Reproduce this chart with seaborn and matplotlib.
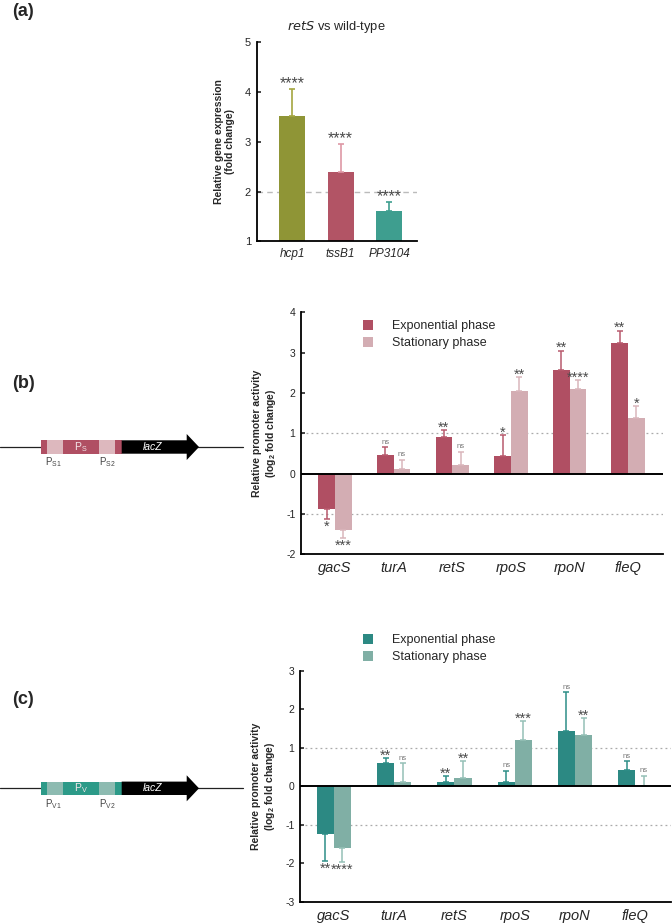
import numpy as np
import pandas as pd
import matplotlib
matplotlib.use("Agg")
import matplotlib.pyplot as plt
import matplotlib.patches as mpatches
import seaborn as sns

# ---------------- data ----------------
genes_a = ["hcp1", "tssB1", "PP3104"]
values_a = [3.52, 2.39, 1.61]
err_top_a = [4.07, 2.95, 1.80]
stars_a = ["****", "****", "****"]

genes_bc = ["gacS", "turA", "retS", "rpoS", "rpoN", "fleQ"]
phases = ["Exponential phase", "Stationary phase"]

b_exp = [-0.87, 0.47, 0.915, 0.45, 2.56, 3.24]
b_exp_err = [-1.12, 0.66, 1.08, 0.96, 3.05, 3.545]
b_exp_sig = ["*", "ns", "**", "*", "**", "**"]
b_stat = [-1.385, 0.115, 0.21, 2.06, 2.09, 1.38]
b_stat_err = [-1.59, 0.35, 0.54, 2.40, 2.32, 1.67]
b_stat_sig = ["***", "ns", "ns", "**", "****", "*"]

c_exp = [-1.245, 0.61, 0.12, 0.12, 1.44, 0.415]
c_exp_err = [-1.93, 0.735, 0.27, 0.41, 2.45, 0.65]
c_exp_sig = ["**", "**", "**", "ns", "ns", "ns"]
c_stat = [-1.60, 0.12, 0.23, 1.21, 1.34, 0.0]
c_stat_err = [-1.96, 0.60, 0.66, 1.70, 1.78, 0.28]
c_stat_sig = ["****", "ns", "**", "***", "**", "ns"]

# ---------------- style ----------------
sns.set_style("white")
plt.rcParams["font.family"] = ["Liberation Sans", "DejaVu Sans"]
plt.rcParams["mathtext.default"] = "regular"
plt.rcParams["axes.unicode_minus"] = False

W, H = 672, 923
fig = plt.figure(figsize=(W / 100, H / 100), dpi=100)


def add_ax(x0, y0, x1, y1):
    return fig.add_axes([x0 / W, 1 - y1 / H, (x1 - x0) / W, (y1 - y0) / H])


STAR_C = "#4A4A4A"
NS_C = "#777777"


def annotate(ax, x, y, s, neg):
    if s == "ns":
        fs, col = 5.5, NS_C
    else:
        fs, col = 10.5, STAR_C
    if neg:
        ax.annotate(s, (x, y), xytext=(0, -1.0), textcoords="offset points",
                    ha="center", va="top", fontsize=fs, color=col)
    else:
        off = 2.5 if s == "ns" else -1.0
        ax.annotate(s, (x, y), xytext=(0, off), textcoords="offset points",
                    ha="center", va="baseline", fontsize=fs, color=col)


def style_axes(ax):
    sns.despine(ax=ax)
    for sp in ["left", "bottom"]:
        ax.spines[sp].set_color("black")
        ax.spines[sp].set_linewidth(1.3)
    ax.tick_params(axis="y", direction="in", length=3, width=1.2,
                   labelsize=7.5, pad=4, left=True)
    ax.tick_params(axis="x", length=0, pad=5)
    ax.set_xlabel("")


# ---------------- panel (a) ----------------
ax_a = add_ax(256.7, 42.3, 416.7, 241.3)
colors_a = ["#8F9536", "#B25465", "#3E9E8F"]
err_col_a = ["#A4A640", "#DE98A5", "#3E9E8F"]
df_a = pd.DataFrame({"gene": genes_a, "value": values_a})
sns.barplot(data=df_a, x="gene", y="value", hue="gene", palette=colors_a,
            width=0.536, saturation=1, errorbar=None, legend=False,
            linewidth=0, ax=ax_a)
bars = [p for c in list(ax_a.containers) for p in c]
for i, p in enumerate(bars):
    xc = p.get_x() + p.get_width() / 2
    v = values_a[i]
    ax_a.errorbar([xc], [v], yerr=[[0], [err_top_a[i] - v]], fmt="none",
                  ecolor=err_col_a[i], elinewidth=1.2, capsize=2.5, capthick=1.2)
    ax_a.annotate(stars_a[i], (xc, err_top_a[i]), xytext=(0, 0.5),
                  textcoords="offset points", ha="center", va="baseline",
                  fontsize=11.5, color=STAR_C)
ax_a.axhline(2, color="#BBBBBB", lw=1.0, ls=(0, (4, 3)), zorder=0)
ax_a.set_ylim(1, 5)
ax_a.set_xlim(-0.73, 2.57)
ax_a.set_yticks([1, 2, 3, 4, 5])
style_axes(ax_a)
ax_a.tick_params(axis="y", labelsize=8)
for lab in ax_a.get_xticklabels():
    lab.set_fontstyle("italic")
    lab.set_fontsize(8.5)
ax_a.set_ylabel("Relative gene expression\n(fold change)", fontsize=7.5,
                fontweight="bold", labelpad=7)
ax_a.set_title("$\\it{retS}$ vs wild-type", fontsize=9.3, pad=9)


# ---------------- panels (b), (c) ----------------
def promoter_panel(box, ylim, xlim, exp, exp_err, exp_sig, stat, stat_err,
                   stat_sig, cols, ecols, leg_xy):
    ax = add_ax(*box)
    df = pd.DataFrame({
        "gene": genes_bc * 2,
        "phase": [phases[0]] * 6 + [phases[1]] * 6,
        "value": exp + stat,
    })
    sns.barplot(data=df, x="gene", y="value", hue="phase", palette=cols,
                width=0.57, saturation=1, errorbar=None, linewidth=0,
                ax=ax)
    vals = [exp, stat]
    errs = [exp_err, stat_err]
    sigs = [exp_sig, stat_sig]
    bar_conts = list(ax.containers)
    for h, cont in enumerate(bar_conts):
        for i, p in enumerate(list(cont)):
            xc = p.get_x() + p.get_width() / 2
            v = vals[h][i]
            e = errs[h][i]
            neg = e < v
            yerr = [[v - e], [0]] if neg else [[0], [e - v]]
            ax.errorbar([xc], [v], yerr=yerr, fmt="none", ecolor=ecols[h],
                        elinewidth=1.1, capsize=2.5, capthick=1.1)
            annotate(ax, xc, e, sigs[h][i], neg)
    ax.axhline(0, color="black", lw=1.4, zorder=3)
    for yy in (1, -1):
        ax.axhline(yy, color="#AAAAAA", lw=0.9, ls=(0, (1.5, 2.5)), zorder=0)
    ax.set_ylim(*ylim)
    ax.set_xlim(*xlim)
    ax.set_yticks(np.arange(ylim[0], ylim[1] + 1))
    style_axes(ax)
    for lab in ax.get_xticklabels():
        lab.set_fontstyle("italic")
        lab.set_fontsize(10.5)
    ax.set_ylabel("Relative promoter activity\n(log$_2$ fold change)",
                  fontsize=7.5, fontweight="bold", labelpad=6)
    handles, labels = ax.get_legend_handles_labels()
    ax.legend(handles, labels, loc="upper left",
              bbox_to_anchor=(leg_xy[0] / W, 1 - leg_xy[1] / H),
              bbox_transform=fig.transFigure, frameon=False, fontsize=9,
              handlelength=0.85, handleheight=0.85, handletextpad=1.5,
              labelspacing=0.35, borderpad=0, borderaxespad=0)
    return ax


ax_b = promoter_panel((301, 312.4, 663.3, 554.3), (-2, 4), (-0.58, 5.6),
                      b_exp, b_exp_err, b_exp_sig, b_stat, b_stat_err,
                      b_stat_sig, ["#B04F63", "#D3ADB3"],
                      ["#B85A6D", "#DAB6BC"], (362.7, 320))
ax_c = promoter_panel((300, 671, 671, 901.7), (-3, 3), (-0.56, 5.59),
                      c_exp, c_exp_err, c_exp_sig, c_stat, c_stat_err,
                      c_stat_sig, ["#2C8983", "#80AFA5"],
                      ["#2E8E87", "#95C0B7"], (362.7, 634))

# ---------------- schematic diagrams & panel labels ----------------
ov = fig.add_axes([0, 0, 1, 1], zorder=-1)
ov.set_xlim(0, W)
ov.set_ylim(H, 0)
ov.axis("off")


def construct(yc, dark, light, letter):
    ov.plot([0, 243], [yc, yc], color="#222222", lw=0.9, zorder=1)
    hh = 6.7
    segs = [(40.7, 46.7, dark), (46.7, 63.3, light), (63.3, 99, dark),
            (99, 115, light), (115, 121.7, dark)]
    for x0, x1, c in segs:
        ov.add_patch(mpatches.Rectangle((x0, yc - hh), x1 - x0, 2 * hh,
                                        facecolor=c, edgecolor="none", zorder=2))
    arrow = mpatches.Polygon([(121.7, yc - hh), (186.7, yc - hh), (186.7, yc - 13),
                              (199, yc), (186.7, yc + 13), (186.7, yc + hh),
                              (121.7, yc + hh)], closed=True, facecolor="black",
                             edgecolor="none", zorder=2)
    ov.add_patch(arrow)
    ov.text(153, yc, "lacZ", color="white", fontsize=7.5, style="italic",
            ha="center", va="center", zorder=3)
    ov.text(81, yc, "P$_{%s}$" % letter, color="#F3E6E9", fontsize=7.5,
            ha="center", va="center", zorder=3)
    ov.text(53.5, yc + 15.5, "P$_{%s1}$" % letter, color="#444444", fontsize=7,
            ha="center", va="center")
    ov.text(107, yc + 15.5, "P$_{%s2}$" % letter, color="#444444", fontsize=7,
            ha="center", va="center")


construct(447, "#B04F63", "#DDB8BE", "S")
construct(788.3, "#2C9A88", "#8DBBB1", "V")

for lab, y in [("(a)", 11.5), ("(b)", 383), ("(c)", 699)]:
    ov.text(12, y, lab, fontsize=13, fontweight="bold", ha="left",
            va="center")

fig.savefig("out.png", dpi=100)
